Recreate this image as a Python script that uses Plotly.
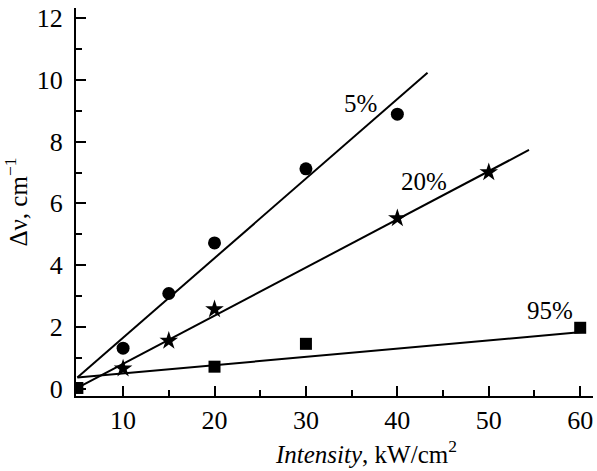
import plotly.graph_objects as go

# Data
x_5 = [10, 15, 20, 30, 40]
y_5 = [1.31, 3.08, 4.72, 7.12, 8.89]
x_20 = [10, 15, 20, 40, 50]
y_20 = [0.65, 1.55, 2.57, 5.52, 7.01]
x_95 = [5, 20, 30, 60]
y_95 = [0.02, 0.71, 1.45, 1.97]

# Fitted lines (endpoints)
fit5_x = [5, 43.3]
fit5_y = [0.36, 10.23]
fit20_x = [5, 54.4]
fit20_y = [0.02, 7.73]
fit95_x = [5, 60.5]
fit95_y = [0.36, 1.84]

labels = ["5%", "20%", "95%"]
label_x = [36.0, 42.95, 56.7]
label_y = [9.24, 6.70, 2.54]

FONT = "Liberation Serif"

fig = go.Figure()
for fx, fy in [(fit5_x, fit5_y), (fit20_x, fit20_y), (fit95_x, fit95_y)]:
    fig.add_trace(go.Scatter(x=fx, y=fy, mode="lines",
                             line=dict(color="black", width=2), showlegend=False,
                             hoverinfo="skip"))
fig.add_trace(go.Scatter(x=x_5, y=y_5, mode="markers",
                         marker=dict(symbol="circle", size=13, color="black"),
                         showlegend=False))
fig.add_trace(go.Scatter(x=x_20, y=y_20, mode="markers",
                         marker=dict(symbol="star", size=14, color="black"),
                         showlegend=False))
fig.add_trace(go.Scatter(x=x_95, y=y_95, mode="markers",
                         marker=dict(symbol="square", size=12, color="black"),
                         showlegend=False))

for t, lx, ly in zip(labels, label_x, label_y):
    fig.add_annotation(x=lx, y=ly, text=t, showarrow=False,
                       font=dict(family=FONT, size=25, color="black"))

fig.add_annotation(xref="paper", yref="paper", x=0.561, y=-0.144,
                   text="<i>Intensity</i>, kW/cm<sup>2</sup>", showarrow=False,
                   yanchor="middle", xanchor="center",
                   font=dict(family=FONT, size=25, color="black"))

axis_common = dict(showgrid=False, zeroline=False, showline=True, linecolor="black",
                   linewidth=2, ticks="inside", ticklen=10, tickwidth=2,
                   tickcolor="black", mirror=False,
                   tickfont=dict(family=FONT, size=26, color="black"))

fig.update_xaxes(range=[4.85, 61.4], tickvals=[10, 20, 30, 40, 50, 60],
                 minor=dict(ticks="inside", ticklen=6, tickwidth=2, tickcolor="black",
                            tickvals=[15, 25, 35, 45, 55]),
                 **axis_common)
fig.update_yaxes(range=[-0.24, 12.33], tickvals=[0, 2, 4, 6, 8, 10, 12],
                 minor=dict(ticks="inside", ticklen=6, tickwidth=2, tickcolor="black",
                            tickvals=[1, 3, 5, 7, 9, 11]),
                 title=dict(text="Δν, cm<sup>−1</sup>", font=dict(family=FONT, size=25, color="black"),
                            standoff=8),
                 ticklabelstandoff=6,
                 **axis_common)

fig.update_layout(width=597, height=471, margin=dict(l=76, r=4, t=8, b=75, autoexpand=False),
                  plot_bgcolor="white", paper_bgcolor="white",
                  font=dict(family=FONT, color="black"))

fig.write_html("out.html", config={"displayModeBar": False},
               post_script="document.body.style.margin='0';")
